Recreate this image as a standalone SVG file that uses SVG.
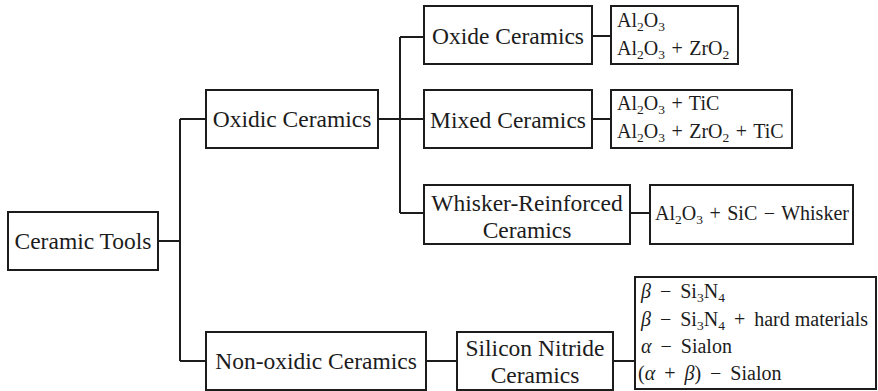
<svg xmlns="http://www.w3.org/2000/svg" width="878" height="391" viewBox="0 0 878 391">
  <style>
    .box { fill: #fff; stroke: #1c1c1c; stroke-width: 2; }
    .wire { fill: none; stroke: #1c1c1c; stroke-width: 2; }
    .lbl { font-family: "Liberation Serif", "Times New Roman", serif; font-size: 23.5px; fill: #1c1c1c; text-anchor: middle; }
    .chem { font-family: "Liberation Serif", "Times New Roman", serif; font-size: 20px; fill: #1c1c1c; word-spacing: 1.5px; }
    .wide { word-spacing: 4px; }
    .sub { font-size: 13.5px; }
    .gr { font-style: italic; }
    .plain { word-spacing: 0; }
  </style>
  <rect width="878" height="391" fill="#fff"/>

  <g id="connectors">
    <path class="wire" d="M158 241 H180 M180 119 V361 M180 119 H206 M180 361 H206"/>
    <path class="wire" d="M378 119 H424 M400 37 V213 M400 37 H424 M400 213 H424"/>
    <path class="wire" d="M592 36 H611 M592 119 H611 M630 213 H650"/>
    <path class="wire" d="M426 361 H457 M613 361 H635"/>
  </g>

  <g id="ceramic-tools">
    <rect class="box" x="8" y="212" width="150" height="58"/>
    <text class="lbl" x="83" y="249">Ceramic Tools</text>
  </g>

  <g id="oxidic">
    <rect class="box" x="206" y="90" width="172" height="58"/>
    <text class="lbl" x="292" y="127">Oxidic Ceramics</text>
  </g>

  <g id="non-oxidic">
    <rect class="box" x="206" y="332" width="220" height="58"/>
    <text class="lbl" x="316" y="369">Non-oxidic Ceramics</text>
  </g>

  <g id="oxide">
    <rect class="box" x="424" y="6" width="168" height="58"/>
    <text class="lbl" x="508" y="44">Oxide Ceramics</text>
  </g>

  <g id="mixed">
    <rect class="box" x="424" y="90" width="168" height="58"/>
    <text class="lbl" x="508" y="128">Mixed Ceramics</text>
  </g>

  <g id="whisker">
    <rect class="box" x="424" y="185" width="206" height="59"/>
    <text class="lbl" x="527" y="211">Whisker-Reinforced</text>
    <text class="lbl" x="527" y="238">Ceramics</text>
  </g>

  <g id="silicon-nitride">
    <rect class="box" x="457" y="332" width="156" height="58"/>
    <text class="lbl" x="535" y="356">Silicon Nitride</text>
    <text class="lbl" x="535" y="383">Ceramics</text>
  </g>

  <g id="oxide-types">
    <rect class="box" x="611" y="6" width="127" height="58"/>
    <text class="chem" x="617" y="27">Al<tspan class="sub" dy="4">2</tspan><tspan dy="-4">O</tspan><tspan class="sub" dy="4">3</tspan></text>
    <text class="chem" x="617" y="55">Al<tspan class="sub" dy="4">2</tspan><tspan dy="-4">O</tspan><tspan class="sub" dy="4">3</tspan><tspan dy="-4"> + ZrO</tspan><tspan class="sub" dy="4">2</tspan></text>
  </g>

  <g id="mixed-types">
    <rect class="box" x="611" y="90" width="181" height="58"/>
    <text class="chem" x="617" y="110">Al<tspan class="sub" dy="4">2</tspan><tspan dy="-4">O</tspan><tspan class="sub" dy="4">3</tspan><tspan dy="-4"> + TiC</tspan></text>
    <text class="chem" x="617" y="138">Al<tspan class="sub" dy="4">2</tspan><tspan dy="-4">O</tspan><tspan class="sub" dy="4">3</tspan><tspan dy="-4"> + ZrO</tspan><tspan class="sub" dy="4">2</tspan><tspan dy="-4"> + TiC</tspan></text>
  </g>

  <g id="whisker-types">
    <rect class="box" x="650" y="185" width="203" height="59"/>
    <text class="chem" x="655" y="220">Al<tspan class="sub" dy="4">2</tspan><tspan dy="-4">O</tspan><tspan class="sub" dy="4">3</tspan><tspan dy="-4"> + SiC − Whisker</tspan></text>
  </g>

  <g id="nitride-types">
    <rect class="box" x="635" y="277" width="241" height="112"/>
    <text class="chem wide" x="641" y="298"><tspan class="gr">β</tspan> − Si<tspan class="sub" dy="4">3</tspan><tspan dy="-4">N</tspan><tspan class="sub" dy="4">4</tspan></text>
    <text class="chem wide" x="641" y="326"><tspan class="gr">β</tspan> − Si<tspan class="sub" dy="4">3</tspan><tspan dy="-4">N</tspan><tspan class="sub" dy="4">4</tspan><tspan dy="-4"> + </tspan><tspan class="plain">hard materials</tspan></text>
    <text class="chem wide" x="641" y="353"><tspan class="gr">α</tspan> − Sialon</text>
    <text class="chem wide" x="638" y="380">(<tspan class="gr">α</tspan> + <tspan class="gr">β</tspan>) − Sialon</text>
  </g>
</svg>
